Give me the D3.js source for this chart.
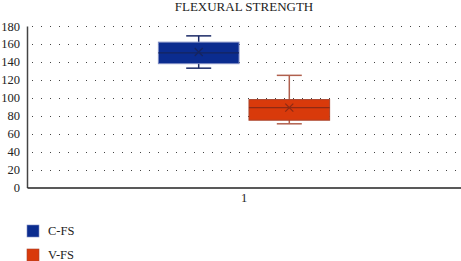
<!DOCTYPE html>
<html>
<head>
<meta charset="utf-8">
<script src="https://cdn.jsdelivr.net/npm/d3@7"></script>
<style>
  body { margin: 0; background: #fff; }
  svg { display: block; }
  svg text { font-family: "Liberation Serif", "DejaVu Serif", serif; }
</style>
</head>
<body>
<svg id="chart" width="461" height="261"></svg>
<script>
// data
const categories = ["1"];
const seriesNames = ["C-FS", "V-FS"];
const whiskerLow = [133, 71];
const q1 = [138, 75];
const median = [150, 89];
const q3 = [162, 98];
const whiskerHigh = [169, 125];
const means = [151, 89];
const yTicks = [0, 20, 40, 60, 80, 100, 120, 140, 160, 180];

const fills = ["#0b2c8f", "#d93a0b"];
const edges = ["#7f8cc4", "#a9442c"];
const darks = ["#16245e", "#8e2a14"];
const whiskerColors = ["#1b2a66", "#b0604e"];

const width = 461, height = 261;
const margin = {top: 26, right: 0, bottom: 74, left: 27};

const svg = d3.select("#chart");

const x = d3.scaleBand()
    .domain(categories)
    .range([margin.left, width - margin.right]);

const inner = d3.scaleBand()
    .domain(seriesNames)
    .range([0, x.bandwidth()])
    .paddingInner(0.11)
    .paddingOuter(1.45);

const y = d3.scaleLinear()
    .domain([0, 180])
    .range([height - margin.bottom + 0.5, margin.top]);

// title
svg.append("text")
    .attr("x", x("1") + x.bandwidth() / 2)
    .attr("y", 11)
    .attr("text-anchor", "middle")
    .style("font-size", "13px")
    .attr("fill", "#222")
    .text("FLEXURAL STRENGTH");

// dotted grid
svg.append("g")
    .selectAll("line")
    .data(yTicks.filter(d => d > 0))
    .join("line")
    .attr("x1", margin.left + 5)
    .attr("x2", width)
    .attr("y1", d => Math.round(y(d)) + 0.5)
    .attr("y2", d => Math.round(y(d)) + 0.5)
    .attr("stroke", "#444")
    .attr("stroke-width", 1)
    .attr("stroke-dasharray", "1 8");

// y axis
const yAxis = svg.append("g")
    .attr("transform", `translate(${margin.left},0)`)
    .call(d3.axisLeft(y).tickValues(yTicks).tickSize(0).tickPadding(7))
    .call(g => g.select(".domain").attr("stroke", "#444").attr("stroke-width", 1.5));
yAxis.selectAll("text")
    .style("font-size", "12.5px")
    .attr("fill", "#222");

// x axis
const xAxis = svg.append("g")
    .attr("transform", `translate(0,${y(0)})`)
    .call(d3.axisBottom(x).tickSize(0).tickPadding(6))
    .call(g => g.select(".domain").attr("stroke", "#222").attr("stroke-width", 1.5));
xAxis.selectAll("text")
    .style("font-size", "12.5px")
    .attr("fill", "#222");

// boxes
const boxes = svg.append("g")
    .selectAll("g")
    .data(seriesNames.map((name, i) => ({name, i})))
    .join("g")
    .attr("transform", d => `translate(${x("1") + inner(d.name)},0)`);

const bw = inner.bandwidth();
const capW = bw * 0.31;

// whisker stems
boxes.append("line")
    .attr("x1", bw / 2).attr("x2", bw / 2)
    .attr("y1", d => y(whiskerHigh[d.i]))
    .attr("y2", d => y(whiskerLow[d.i]))
    .attr("stroke", d => whiskerColors[d.i])
    .attr("stroke-width", 1.5);

// caps
["low", "high"].forEach(k => {
    boxes.append("line")
        .attr("x1", bw / 2 - capW / 2).attr("x2", bw / 2 + capW / 2)
        .attr("y1", d => y(k === "low" ? whiskerLow[d.i] : whiskerHigh[d.i]))
        .attr("y2", d => y(k === "low" ? whiskerLow[d.i] : whiskerHigh[d.i]))
        .attr("stroke", d => whiskerColors[d.i])
        .attr("stroke-width", 1.5);
});

boxes.append("rect")
    .attr("x", 0)
    .attr("width", bw)
    .attr("y", d => y(q3[d.i]))
    .attr("height", d => y(q1[d.i]) - y(q3[d.i]))
    .attr("fill", d => fills[d.i])
    .attr("stroke", d => edges[d.i])
    .attr("stroke-width", 1);

// median
boxes.append("line")
    .attr("x1", 0).attr("x2", bw)
    .attr("y1", d => y(median[d.i]))
    .attr("y2", d => y(median[d.i]))
    .attr("stroke", d => darks[d.i])
    .attr("stroke-width", 1.2);

// mean marker (x)
boxes.append("path")
    .attr("d", d => {
        const cx = bw / 2, cy = y(means[d.i]), r = 4;
        return `M${cx - r},${cy - r}L${cx + r},${cy + r}M${cx - r},${cy + r}L${cx + r},${cy - r}`;
    })
    .attr("stroke", d => darks[d.i])
    .attr("stroke-width", 1.2)
    .attr("fill", "none");

// legend
const legend = svg.append("g")
    .selectAll("g")
    .data(seriesNames)
    .join("g")
    .attr("transform", (d, i) => `translate(27,${225 + i * 24})`);

legend.append("rect")
    .attr("width", 12)
    .attr("height", 12)
    .attr("fill", (d, i) => fills[i])
    .attr("stroke", (d, i) => edges[i])
    .attr("stroke-width", 0.6);

legend.append("text")
    .attr("x", 21)
    .attr("y", 10)
    .style("font-size", "12.5px")
    .attr("fill", "#222")
    .text(d => d);
</script>
</body>
</html>
